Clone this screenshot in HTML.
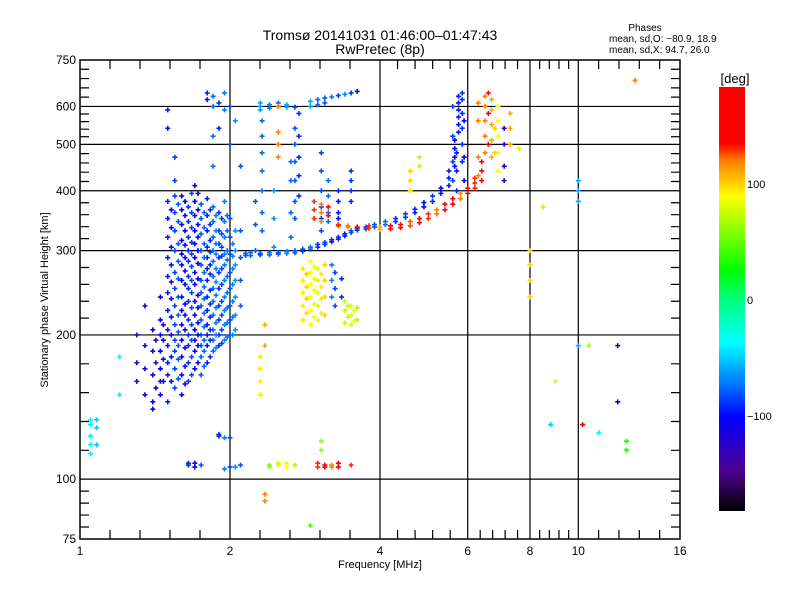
<!DOCTYPE html>
<html><head><meta charset="utf-8"><style>
body{margin:0;background:#fff}
svg{display:block;font-family:"Liberation Sans",sans-serif}
</style></head><body>
<svg id="c" width="800" height="600" xmlns="http://www.w3.org/2000/svg">
<rect width="800" height="600" fill="#fff"/>
<text x="380" y="40" font-size="14" text-anchor="middle">Tromsø 20141031 01:46:00–01:47:43</text>
<text x="380" y="54" font-size="14" text-anchor="middle">RwPretec (8p)</text>
<text x="645" y="31" font-size="10" text-anchor="middle">Phases</text>
<text x="609" y="42" font-size="10">mean, sd,O: −80.9, 18.9</text>
<text x="609" y="53" font-size="10">mean, sd,X:  94.7, 26.0</text>
<text x="380" y="568" font-size="11" text-anchor="middle">Frequency [MHz]</text>
<text transform="translate(48,300) rotate(-90)" font-size="11" text-anchor="middle">Stationary phase Virtual Height [km]</text>
<defs><linearGradient id="cg" x1="0" y1="1" x2="0" y2="0"></linearGradient></defs>
<g id="grid"></g><g id="pts"></g><g id="axes"></g><g id="cbar"></g>
</svg>
<script>
// ---- data ----
const xTicks=[1,2,4,6,8,10,16];
const yTicks=[75,100,200,300,400,500,600,750];
const cbTicks=[100,0,-100];
const colFreq=[1.05,1.08,1.2,1.3,1.35,1.4,1.45,1.5,1.55,1.6,1.65,1.7,1.75,1.8,1.85,1.9,1.95,2.0,2.05,2.1,
2.15,2.2,2.3,2.4,2.5,2.6,2.7,2.8,2.9,3.0,3.1,3.2,3.3,3.4,3.5,3.6,3.75,3.9,4.1,4.3,4.5,4.7,4.9,5.1,5.3,5.5,5.65,5.75,5.85,5.6,
2.3,2.4,2.5,2.6,2.7,2.9,3.0,3.1,3.2,3.3,3.4,3.5,3.6,
2.32,2.7,2.75,3.05,3.15,3.3,3.5,
2.5,2.95,3.05,3.15,3.3,3.45,3.6,3.8,4.0,4.2,4.4,4.6,4.8,5.0,5.2,5.4,5.6,5.8,6.0,6.2,6.4,6.5,6.7,6.9,7.1,7.3,
4.6,4.8,2.8,2.9,3.0,3.1,3.4,3.5,3.6,3.25,
2.4,2.5,2.6,2.7,3.0,3.1,3.2,3.3,3.5,3.05,2.35,2.9,2.3,2.35,
8.0,9.0,10,10.5,11,12,12.5,8.8,10.2,7.6,8.5,13,
1.525,1.575,1.625,1.675,1.725,1.775,1.825,1.875,1.925,1.975,2.025,1.42,1.47,
2.85,2.95,3.05,3.45,3.55,3.2,3.35,2.25,2.45,2.65,6.3,6.6,6.8,5.7,5.9];
const colPhase=[-40,-50,-40,-130,-120,-110,-105,-95,-85,-100,-90,-105,-80,-95,-75,-90,-70,-85,-65,-80,
-80,-75,-85,-75,-80,-70,-80,-85,-75,-90,-85,-95,-90,-95,-80,-90,-85,-80,-75,-90,-85,-95,-100,-90,-100,-95,-100,-95,-90,-85,
-60,-70,-75,-60,-85,-60,-75,-80,-70,-85,-65,-90,-100,
-75,-80,-90,-85,-75,-95,-90,
120,130,120,140,130,120,140,130,110,135,140,125,140,130,120,135,140,120,135,130,140,120,110,90,-130,110,
100,70,95,90,80,100,75,80,70,-85,
60,80,90,70,130,140,120,150,130,60,120,40,95,110,
100,80,-60,70,-40,-110,30,-50,150,80,100,120,
-100,-80,-105,-85,-100,-75,-90,-70,-85,-75,-70,-125,-115,
100,85,95,70,85,-70,-90,-80,-65,-75,120,140,100,-95,-100];
const colHeights=[[113,118,123,130,133],[118,128,133],[180,150],[175,200,160],[150,170,190,230],[145,165,185,205,140],[150,160,170,185,200,215,240],
[145,165,175,190,205,225,245,265,290,320,350,380,540,590],[155,170,185,195,210,230,250,270,300,330,360,390,420,470],
[150,165,180,195,210,225,240,260,280,295,315,340,365,390],[160,175,190,200,215,235,250,265,285,300,320,345,370,107,108],
[170,185,195,205,220,235,255,270,290,310,330,355,380,410,106,108],[165,180,190,200,215,230,245,260,280,300,325,350,375,107],
[175,190,200,210,225,240,260,275,290,305,330,355,385,620,640],[185,195,205,220,235,250,265,285,300,320,345,370,600,630,520,450],
[190,200,215,230,250,270,290,310,330,360,610,540,123,124],[195,210,225,240,260,280,295,320,345,380,640,590,122,105],
[200,215,230,250,270,295,320,350,600,500,122,106],[205,220,240,260,280,300,330,560,106],[230,260,290,330,107,450],
[293,296],[293,297],[294,296],[294,297],[295,297],[296,299],[297,300],[299,302],[302,305],[305,309],[309,312],[313,316],[317,320],[322,325],[327,330],[331,334],[333,336],[336,340],[340,345],[345,350],[352,358],[360,366],[370,378],[380,390],[395,405],[410,425,440],[450,470,490,510],[530,550,570,590,610,630],[460,500,540,580,620,640],[420,460,520,600],
[600,590,610],[605,595],[600,610],[605,598],[598],[615,600],[620,605],[625,610],[628],[632],[636],[640],[645],
[560,520,480,440,400,360,330],[540,500,460,420,380,350],[580,520,470,430,390],[480,440,400,370,350,330],[420,390,360,345],[400,380,360,350],[440,420,400,380],
[600,530,500,470],[380,365,350],[375,360,345],[370,355],[340,338],[338,336],[336],[334,338],[332,336],[333,338],[335,340],[338,345],[343,350],[350,358],[358,365],[365,375],[375,385],[385,395],[395,405],[405,415,425],[420,440,460],[480,520,560,600,630],[470,510,550,590,620],[440,480,520,560,600],[420,450,500,540],[500,540,580],
[440,420,400],[470,450],[215,230,245,260,275],[210,225,240,255,270,285],[215,230,245,260,275],[220,240,260,280],[212,225,235],[210,220,230],[215,228],[230,250,270],
[107,106],[107,108],[106,108],[107],[106,108],[106,107],[107,106],[106,108],[107],[115,120],[90,93],[80],[150,160,170,180],[190,210],
[300,280,260,240],[160],[190,420,400,380],[190],[125],[145,190],[120,115],[130],[130],[490],[370],[680],
[160,180,200,218,238,258,280,305,335,365],[162,178,190,203,220,240,262,285,310,345,375],[158,172,188,205,220,232,255,272,290,308,330,355,380],
[165,180,195,210,228,245,260,278,295,312,335,360,395],[175,190,200,212,228,242,262,282,300,320,340,365,395],[172,185,195,208,222,238,252,270,290,310,335,360],
[180,195,205,218,232,248,268,280,298,315,340,365],[188,200,212,228,242,258,275,295,310,330,355],[192,205,220,235,255,275,292,305,325,350],
[198,212,228,245,265,287,300,330,355],[200,218,235,255,275,292,310],[155,175,195],[160,178,195,210],
[222,238,252,268],[218,232,248,262,278],[222,238,252,268],[218,230],[214,225],[240,260,280],[240,262],[300,340,380],[305,350,400],[320,360,420,460],[430,470,560,610],[500,580,640],[480,540],[400,440,480],[420,470,560]];
const cmapVal=[180,135,120,89,26,0,-37,-70,-101,-147,-182];
const cmapCol=["#ff0000","#ff0000","#ff8000","#ffff00","#00ff00","#00ff80","#00ffff","#0080ff","#0000ff","#500090","#000000"];

// ---- scales ----
const L=80,R=680,T=60,B=539;
const xS=f=>L+(R-L)*Math.log2(f)/4;
const yS=h=>B-(B-T)*Math.log10(h/75);
const cbT=87,cbB=511,cbVS=v=>300-v*1.16;
function hex(c){return [parseInt(c.slice(1,3),16),parseInt(c.slice(3,5),16),parseInt(c.slice(5,7),16)];}
function color(v){
  for(let i=0;i<cmapVal.length-1;i++){const a=cmapVal[i],b=cmapVal[i+1];
    if(v<=a&&v>=b){const t=(a-v)/(a-b);const ca=hex(cmapCol[i]),cb=hex(cmapCol[i+1]);
      return 'rgb('+ca.map((q,k)=>Math.round(q+(cb[k]-q)*t)).join(',')+')';}}
  return v>0?cmapCol[0]:cmapCol[cmapCol.length-1];
}
const NS='http://www.w3.org/2000/svg';
function mk(tag,attrs,parent){const e=document.createElementNS(NS,tag);for(const k in attrs)e.setAttribute(k,attrs[k]);parent.appendChild(e);return e;}
const grid=document.getElementById('grid'),pts=document.getElementById('pts'),axes=document.getElementById('axes'),cbar=document.getElementById('cbar');

// grid
yTicks.slice(1,-1).forEach(h=>{const y=yS(h);const ln=mk('line',{x1:L,x2:R,y1:y,y2:y,stroke:'#000','stroke-width':1.2},grid);

});
xTicks.slice(1,-1).forEach(f=>{const x=xS(f);const ln=mk('line',{x1:x,x2:x,y1:T,y2:B,stroke:'#000','stroke-width':1.2},grid);

});

// points
colFreq.forEach((f,i)=>{const c=color(colPhase[i]);colHeights[i].forEach(h=>{
  const x=xS(f),y=yS(h);
  const p=mk('path',{d:`M${x-2.5} ${y}h5M${x} ${y-2.5}v5`,stroke:c,'stroke-width':1.6,fill:'none'},pts);
  
  
});});

// axes frame
const fr=mk('rect',{x:L,y:T,width:R-L,height:B-T,fill:'none',stroke:'#000','stroke-width':1.5},axes);


for(let i=0;i<xTicks.length-1;i++){const a=xS(xTicks[i]),b=xS(xTicks[i+1]);for(let k=1;k<5;k++){const x=a+(b-a)*k/5;
  const t=mk('path',{d:`M${x} ${B}v-9M${x} ${T}v9`,stroke:'#000','stroke-width':1.2},axes);
  
  }}
for(let i=0;i<yTicks.length-1;i++){const a=yS(yTicks[i]),b=yS(yTicks[i+1]);for(let k=1;k<5;k++){const y=a+(b-a)*k/5;
  const t=mk('path',{d:`M${L} ${y}h9M${R} ${y}h-9`,stroke:'#000','stroke-width':1.2},axes);
  
  }}
xTicks.forEach(f=>{const t=mk('text',{x:xS(f),y:555,'font-size':12,'text-anchor':'middle'},axes);t.textContent=f;

});
yTicks.forEach(h=>{const t=mk('text',{x:L-4,y:yS(h)+4,'font-size':12,'text-anchor':'end'},axes);t.textContent=h;

});

// colorbar (stops must be added in increasing offset order)
const g=document.getElementById('cg');
for(let i=cmapVal.length-1;i>=0;i--){const off=Math.max(0,Math.min(1,(cbB-cbVS(cmapVal[i]))/(cbB-cbT)));
  mk('stop',{offset:off,'stop-color':cmapCol[i]},g);}
const cb=mk('rect',{x:719,y:cbT,width:26,height:cbB-cbT,fill:'url(#cg)'},cbar);


const dl=mk('text',{x:735,y:83,'font-size':13,'text-anchor':'middle'},cbar);dl.textContent='[deg]';


cbTicks.forEach(v=>{const t=mk('text',{x:747,y:cbVS(v)+4,'font-size':11},cbar);t.textContent=v<0?'−'+(-v):v;

});
</script>
</body></html>
